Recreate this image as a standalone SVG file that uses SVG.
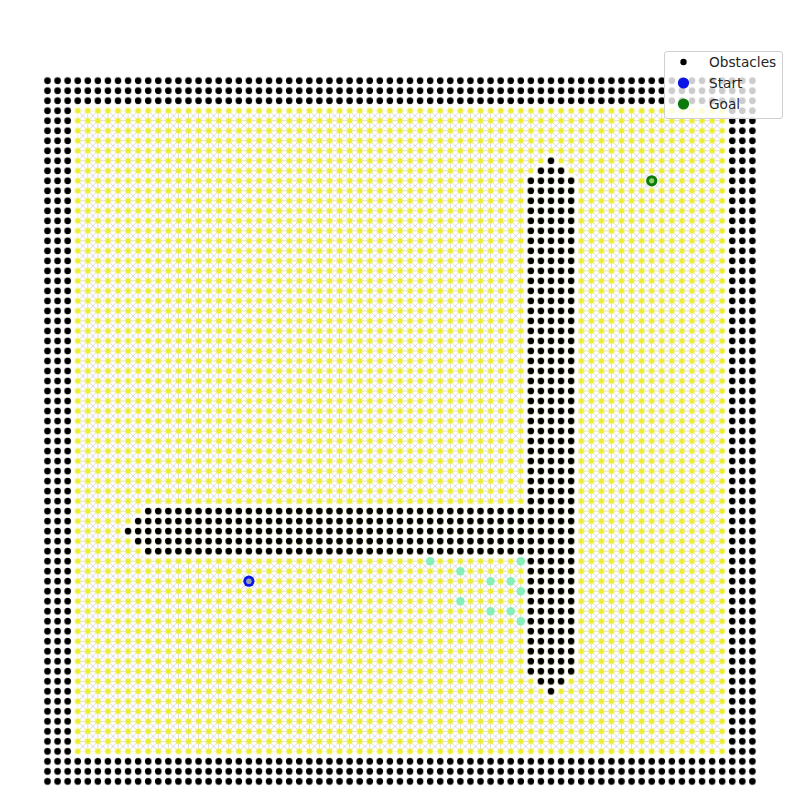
<svg xmlns="http://www.w3.org/2000/svg" width="800" height="800" viewBox="0 0 800 800">
<defs>
<style>
.obs{fill:url(#obsPat)}
.leg{font-family:"DejaVu Sans",sans-serif;font-size:13.7px;fill:#262626}
.vis{fill:#86efb8}
</style>
<pattern id="edgePat" patternUnits="userSpaceOnUse" x="42.465" y="75.695" width="10.07" height="10.01">
<path d="M0 5.005H10.07M5.035 0V10.01M0 0L10.07 10.01M10.07 0L0 10.01" stroke="#cfcfcf" stroke-width="0.75" fill="none"/>
</pattern>
<pattern id="nodePat" patternUnits="userSpaceOnUse" x="42.465" y="75.695" width="10.07" height="10.01">
<circle cx="5.035" cy="5.005" r="3.4" fill="#f4f480" opacity="0.55"/>
<circle cx="5.035" cy="5.005" r="2.5" fill="#eeee30"/>
</pattern>
<pattern id="obsPat" patternUnits="userSpaceOnUse" x="42.465" y="75.695" width="10.07" height="10.01">
<circle cx="5.035" cy="5.005" r="3.3" fill="#000"/>
</pattern>
</defs>
<rect width="800" height="800" fill="#fff"/>
<g id="free-space-graph">
<rect x="77.71" y="110.73" width="644.48" height="640.64" fill="url(#edgePat)"/>
<polygon points="551,150.8 578.4,177.9 578.4,674.2 551,701.3 523.6,674.2 523.6,558.4 145.3,558.4 118,531.15 145.3,503.9 523.6,503.9 523.6,177.9" fill="#fff"/>
<rect x="72.7" y="105.7" width="654.5" height="650.7" fill="url(#nodePat)"/>
</g>
<g id="obstacles">
<rect class="obs" x="42.465" y="75.695" width="714.97" height="30.03"/>
<rect class="obs" x="42.465" y="756.375" width="714.97" height="30.03"/>
<rect class="obs" x="42.465" y="105.725" width="30.21" height="650.65"/>
<rect class="obs" x="727.225" y="105.725" width="30.21" height="650.65"/>
<rect class="obs" x="545.965" y="155.775" width="10.07" height="10.01"/>
<rect class="obs" x="535.895" y="165.785" width="30.21" height="10.01"/>
<rect class="obs" x="525.825" y="175.795" width="50.35" height="500.5"/>
<rect class="obs" x="535.895" y="676.295" width="30.21" height="10.01"/>
<rect class="obs" x="545.965" y="686.305" width="10.07" height="10.01"/>
<rect class="obs" x="143.165" y="506.125" width="382.66" height="10.01"/>
<rect class="obs" x="133.095" y="516.135" width="392.73" height="10.01"/>
<rect class="obs" x="123.025" y="526.145" width="402.8" height="10.01"/>
<rect class="obs" x="133.095" y="536.155" width="392.73" height="10.01"/>
<rect class="obs" x="143.165" y="546.165" width="382.66" height="10.01"/>
</g>
<g id="visited">
<circle class="vis" cx="430.16" cy="561.18" r="4.2"/>
<circle class="vis" cx="460.37" cy="571.19" r="4.2"/>
<circle class="vis" cx="490.58" cy="581.2" r="4.2"/>
<circle class="vis" cx="510.72" cy="581.2" r="4.2"/>
<circle class="vis" cx="520.79" cy="561.18" r="4.2"/>
<circle class="vis" cx="520.79" cy="591.21" r="4.2"/>
<circle class="vis" cx="460.37" cy="601.22" r="4.2"/>
<circle class="vis" cx="490.58" cy="611.23" r="4.2"/>
<circle class="vis" cx="510.72" cy="611.23" r="4.2"/>
<circle class="vis" cx="520.79" cy="621.24" r="4.2"/>
</g>
<g id="start">
<circle cx="248.9" cy="581.2" r="5.6" fill="#0a14e6"/>
<circle cx="248.9" cy="581.2" r="2.8" fill="#8f9bb0"/>
</g>
<g id="goal">
<circle cx="651.7" cy="180.8" r="5.6" fill="#0a7a0a"/>
<circle cx="651.7" cy="180.8" r="2.6" fill="#8fd060"/>
</g>
<g id="legend">
<rect x="664.5" y="51.5" width="118" height="67" rx="2.5" fill="#fff" fill-opacity="0.8" stroke="#d0d0d0" stroke-width="1"/>
<circle cx="683.5" cy="62" r="3.2" fill="#000"/>
<text class="leg" x="709" y="67">Obstacles</text>
<circle cx="683.5" cy="83" r="5.6" fill="#0a14e6"/>
<text class="leg" x="709" y="88">Start</text>
<circle cx="683.5" cy="104" r="5.6" fill="#0a7a0a"/>
<text class="leg" x="709" y="109">Goal</text>
</g>
</svg>
